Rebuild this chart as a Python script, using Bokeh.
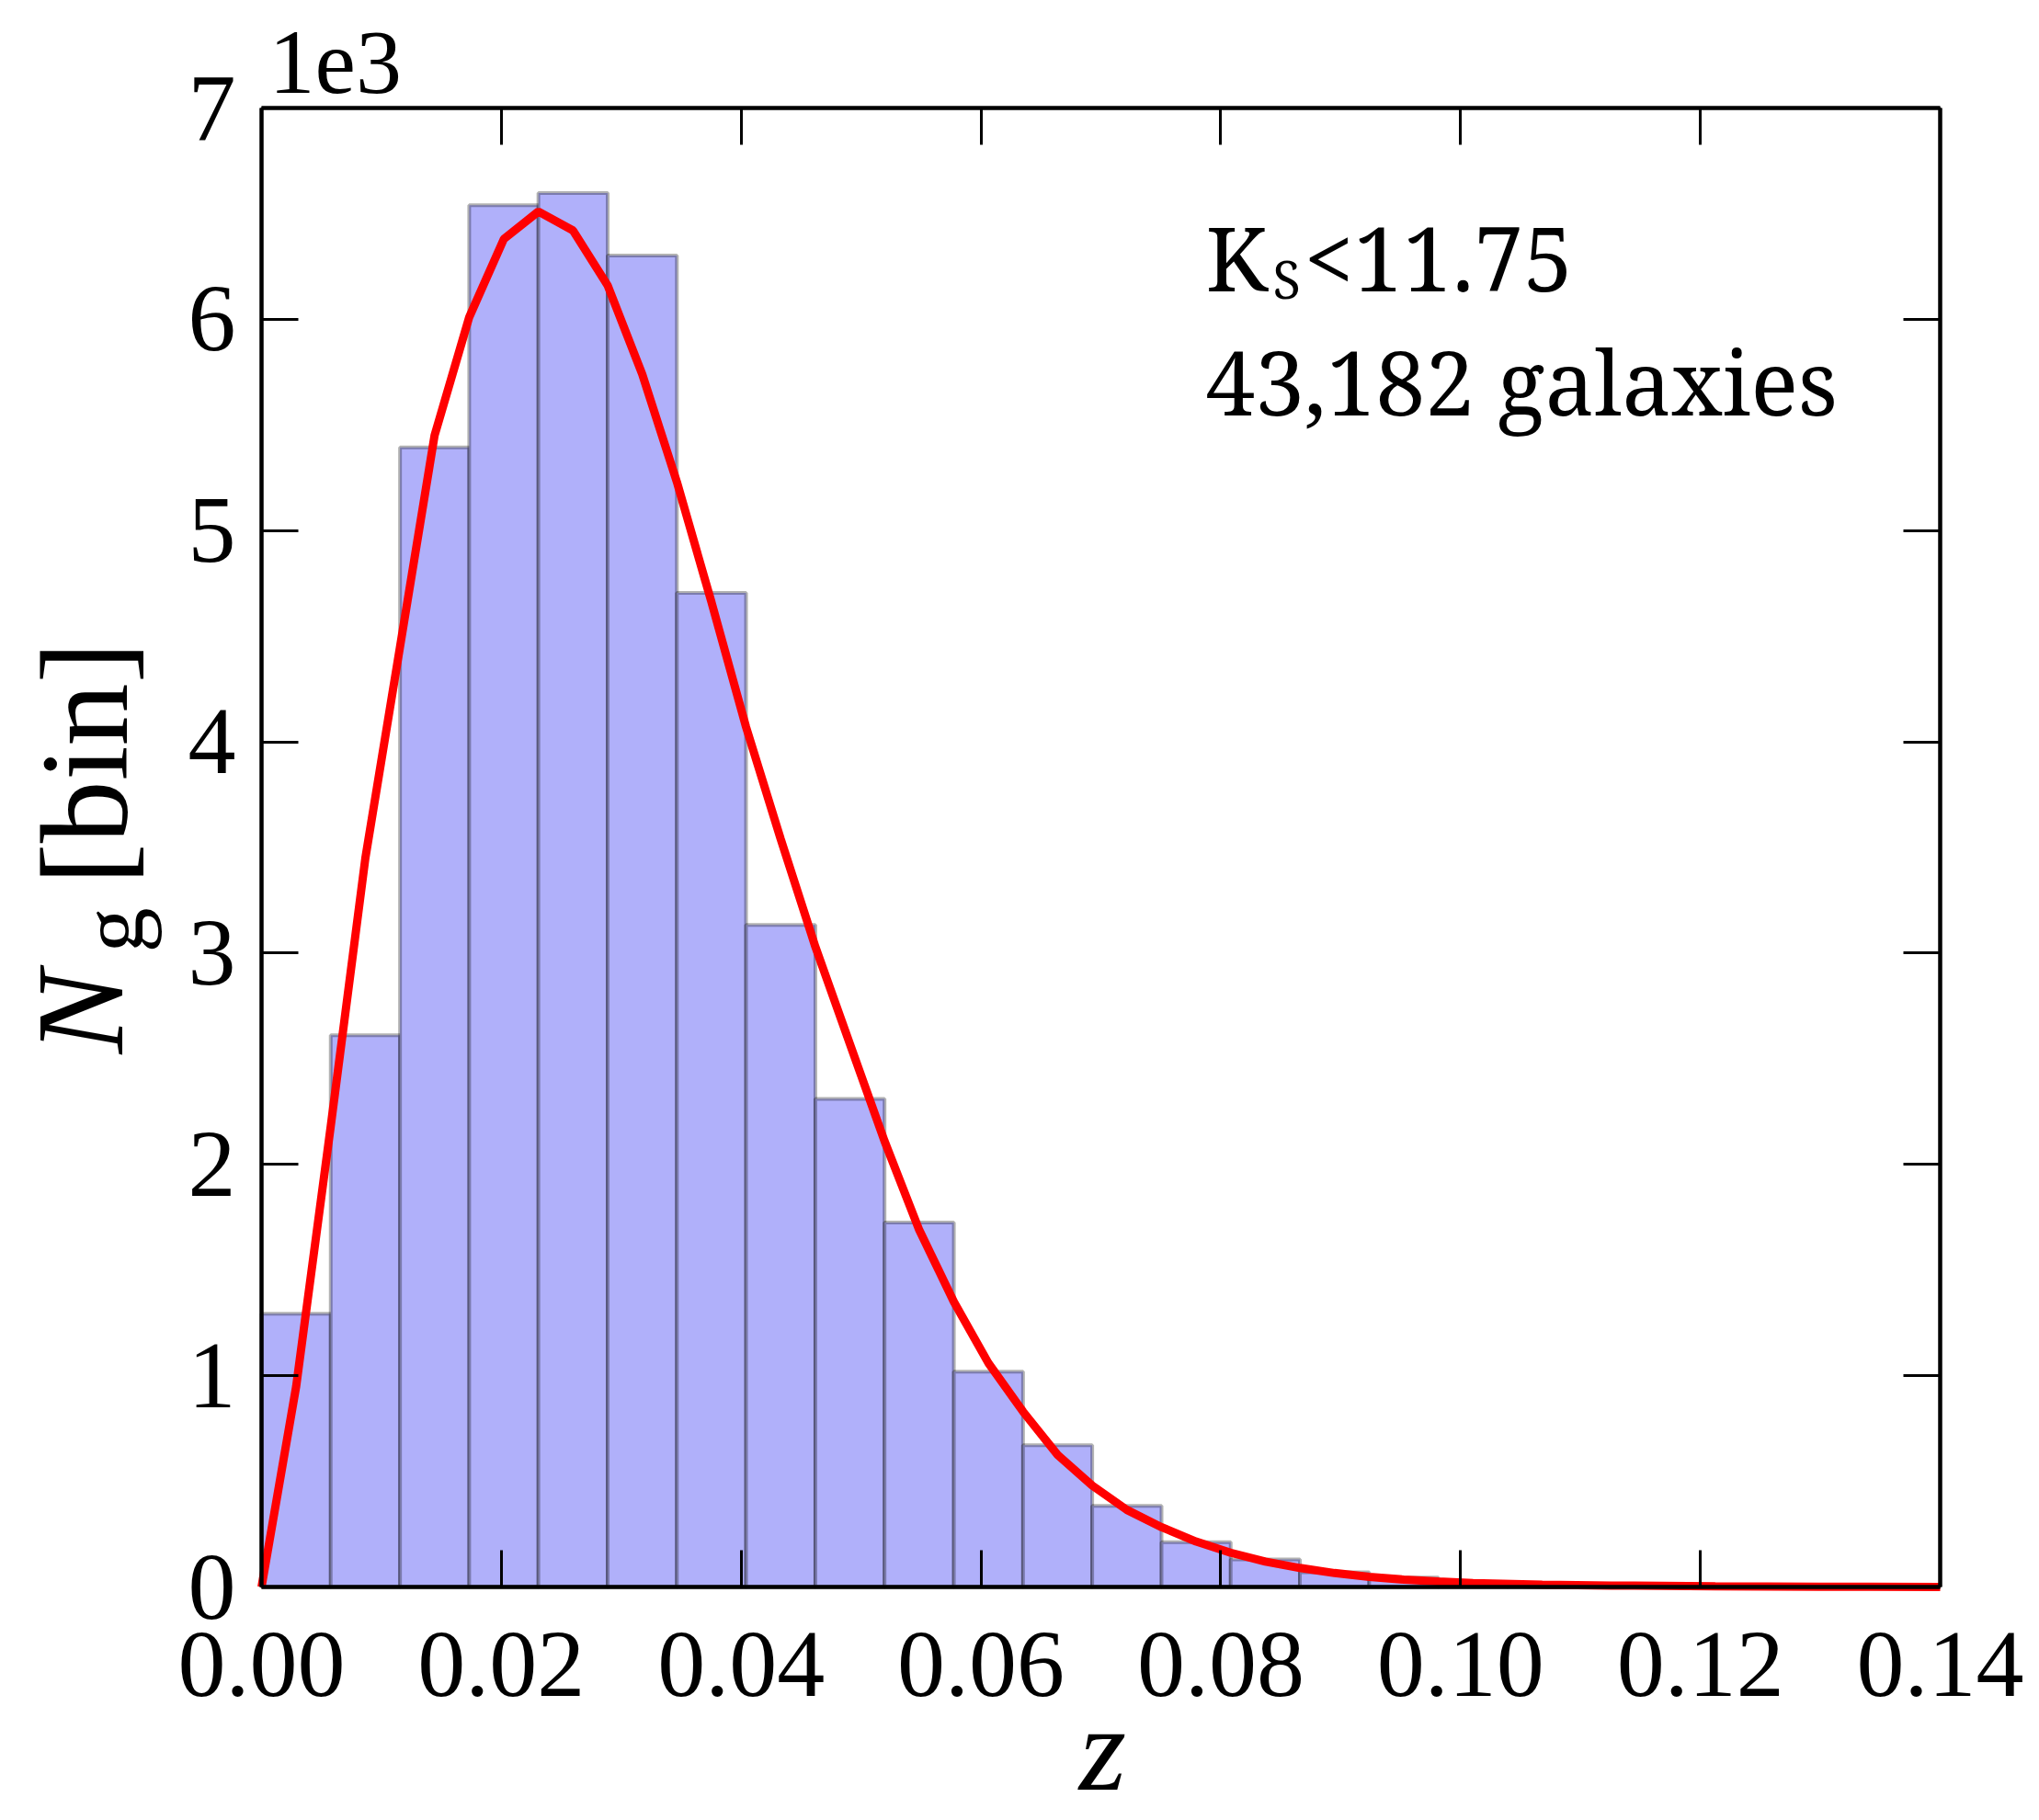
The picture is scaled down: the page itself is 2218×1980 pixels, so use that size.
import math

from bokeh.embed import file_html
from bokeh.models import CustomJSTickFormatter, FixedTicker, Label, LinearAxis, Range1d
from bokeh.plotting import figure
from bokeh.resources import INLINE

# Redshift histogram of the K_S < 11.75 sample (bin edges and counts per bin)
bin_edges = [0.0, 0.00577, 0.01155, 0.01732, 0.02309, 0.02887, 0.03464, 0.04041,
             0.04619, 0.05196, 0.05774, 0.06351, 0.06928, 0.07506, 0.08083, 0.08660,
             0.09238, 0.09815, 0.10392, 0.10970, 0.11547]
bin_counts = [1293, 2611, 5394, 6540, 6598, 6302, 4705, 3134, 2310, 1725,
              1019, 671, 384, 212, 130, 70, 45, 22, 11, 6]

# Fitted redshift distribution (sampled at half-bin spacing)
fit_z = [0.0, 0.00289, 0.00577, 0.00866, 0.01155, 0.01443, 0.01732, 0.02021, 0.02309,
         0.02598, 0.02887, 0.03175, 0.03464, 0.03753, 0.04041, 0.04330, 0.04619, 0.04907,
         0.05196, 0.05485, 0.05774, 0.06062, 0.06351, 0.06640, 0.06928, 0.07217, 0.07506,
         0.07794, 0.08083, 0.08372, 0.08660, 0.08949, 0.09238, 0.09526, 0.09815, 0.10104,
         0.10681, 0.11259, 0.12124, 0.12990, 0.14000]
fit_n = [0, 950, 2180, 3450, 4450, 5450, 6010, 6380, 6510,
         6420, 6160, 5740, 5230, 4660, 4070, 3540, 3030, 2570,
         2110, 1690, 1350, 1060, 830, 625, 480, 365, 283,
         215, 162, 120, 90, 66, 48, 35, 26, 19,
         11, 7, 3, 1.5, 0.5]

x_ticks = [0.0, 0.02, 0.04, 0.06, 0.08, 0.10, 0.12, 0.14]
y_ticks = [0, 1000, 2000, 3000, 4000, 5000, 6000, 7000]

X_MAX, Y_MAX = 0.14, 7000

# canvas and axes-box geometry in pixels
W, H = 2218, 1980
BL, BT, BW, BH = 284, 117, 1826, 1609

SERIF = "Liberation Serif"
NOTE_FONT = "'Noto Serif', 'DejaVu Serif', serif"

# the plotting frame spans the whole canvas; the axes box is drawn by
# axes pinned to the data limits, so texts around it are never clipped
x_per_px = X_MAX / BW
y_per_px = Y_MAX / BH
x_range = Range1d(-BL * x_per_px, X_MAX + (W - BL - BW) * x_per_px)
y_range = Range1d(-(H - BT - BH) * y_per_px, Y_MAX + BT * y_per_px)

p = figure(width=W, height=H, x_range=x_range, y_range=y_range,
           x_axis_type=None, y_axis_type=None,
           output_backend="svg", toolbar_location=None,
           min_border=0)
p.xgrid.visible = False
p.ygrid.visible = False
p.background_fill_color = "white"
p.border_fill_color = "white"
p.outline_line_color = None


def px_x(px):
    """canvas pixel column -> data x"""
    return x_range.start + px * x_per_px


def px_y(py):
    """canvas pixel row -> data y"""
    return y_range.end - py * y_per_px


# histogram bars
p.quad(left=bin_edges[:-1], right=bin_edges[1:], bottom=0, top=bin_counts,
       fill_color="#b0b0fa", fill_alpha=1.0,
       line_color="black", line_alpha=0.3, line_width=4)

# fitted curve
p.line(fit_z, fit_n, line_color="#ff0000", line_width=9)


def make_axis(ticks, bounds, location, show_labels):
    ax = LinearAxis(fixed_location=location, bounds=bounds)
    ax.ticker = FixedTicker(ticks=ticks)
    ax.minor_tick_line_color = None
    ax.major_tick_in = 40
    ax.major_tick_out = 0
    ax.major_tick_line_width = 3
    ax.major_tick_line_color = "black"
    ax.axis_line_width = 4.5
    ax.axis_line_color = "black"
    if show_labels:
        ax.major_label_text_font = SERIF
        ax.major_label_text_font_size = "104px"
        ax.major_label_text_color = "black"
    else:
        ax.formatter = CustomJSTickFormatter(code="return '';")
    return ax


xax = make_axis(x_ticks, (0, X_MAX), 0, True)
xax.formatter = CustomJSTickFormatter(code="return tick.toFixed(2);")
xax.major_label_standoff = 50
yax = make_axis(y_ticks, (0, Y_MAX), 0, True)
yax.formatter = CustomJSTickFormatter(code="return (tick / 1000).toFixed(0);")
yax.major_label_standoff = 28
top_ax = make_axis(x_ticks, (0, X_MAX), Y_MAX, False)
right_ax = make_axis(y_ticks, (0, Y_MAX), X_MAX, False)

p.add_layout(xax, "below")
p.add_layout(yax, "left")
p.add_layout(top_ax, "above")
p.add_layout(right_ax, "right")

# a label's anchor sits about 0.35 em above its drawn baseline
DROP = 0.35


def add_label(text, px, py, size, font=SERIF, style="normal", align="left"):
    p.add_layout(Label(x=px_x(px), y=px_y(py - DROP * size), text=text,
                       text_font=font, text_font_size=f"{size}px",
                       text_font_style=style, text_color="black",
                       text_align=align, text_baseline="alphabetic"))


def add_vlabel(text, px, py, size, font=SERIF, style="normal"):
    p.add_layout(Label(x=px_x(px - DROP * size), y=px_y(py), text=text,
                       text_font=font, text_font_size=f"{size}px",
                       text_font_style=style, text_color="black",
                       text_align="left", text_baseline="alphabetic",
                       angle=math.pi / 2))


# scale factor of the y axis
add_label("1e3", 292, 103, 100)

# x axis title
add_label("z", 1199, 1948, 132, style="italic", align="center")

# y axis title: N_g [bin], reading upwards
add_vlabel("N", 134, 1146, 136, style="italic")
add_vlabel("g", 156, 1036, 98)
add_vlabel("[bin]", 139, 962, 136)

# sample description
add_label("K", 1311, 313, 96, font=NOTE_FONT)
add_label("S", 1384, 322, 56, font=NOTE_FONT)
add_label("<11.75", 1418, 313, 96, font=NOTE_FONT)
add_label("43,182 galaxies", 1311, 448, 96, font=NOTE_FONT)

open("out.html", "w").write(file_html(p, INLINE))
